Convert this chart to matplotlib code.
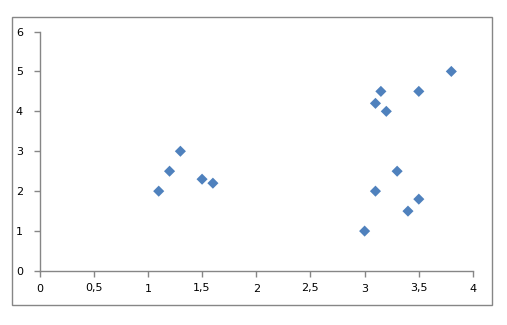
import matplotlib.pyplot as plt
from matplotlib.patches import Rectangle

# ---- Data ----
x_values = [1.1, 1.2, 1.3, 1.5, 1.6, 3.0, 3.1, 3.1, 3.15, 3.2, 3.3, 3.4, 3.5, 3.5, 3.8]
y_values = [2.0, 2.5, 3.0, 2.3, 2.2, 1.0, 2.0, 4.2, 4.5, 4.0, 2.5, 1.5, 1.8, 4.5, 5.0]
x_ticks = [0, 0.5, 1, 1.5, 2, 2.5, 3, 3.5, 4]
y_ticks = [0, 1, 2, 3, 4, 5, 6]

AXIS_GRAY = "#868686"
MARKER_BLUE = "#4F81BD"


def fmt(v):
    # comma decimal separator, like the original
    return ("%g" % v).replace(".", ",")


def main():
    fig = plt.figure(figsize=(5.07, 3.25), dpi=100)
    fig.patch.set_facecolor("white")

    # outer chart border
    fig.patches.append(Rectangle((12 / 507, 1 - 305 / 325), 480 / 507, 288 / 325,
                                 transform=fig.transFigure, fill=False,
                                 edgecolor=AXIS_GRAY, linewidth=1))

    ax = fig.add_axes([39.5 / 507, 1 - 271 / 325, 433.5 / 507, 239.5 / 325])
    ax.scatter(x_values, y_values, marker="D", s=32, color=MARKER_BLUE,
               edgecolors="none", zorder=3, clip_on=False)

    ax.set_xlim(0, 4)
    ax.set_ylim(0, 6)
    ax.set_xticks(x_ticks)
    ax.set_xticklabels([fmt(v) for v in x_ticks])
    ax.set_yticks(y_ticks)
    ax.set_yticklabels([fmt(v) for v in y_ticks])

    for side in ("top", "right"):
        ax.spines[side].set_visible(False)
    for side in ("left", "bottom"):
        ax.spines[side].set_color(AXIS_GRAY)
        ax.spines[side].set_linewidth(1)

    ax.tick_params(axis="both", direction="out", length=4, width=1,
                   color=AXIS_GRAY, labelsize=8, labelcolor="black")
    ax.tick_params(axis="x", pad=5)
    ax.tick_params(axis="y", pad=8)

    fig.savefig("out.png", dpi=100)


if __name__ == "__main__":
    main()
